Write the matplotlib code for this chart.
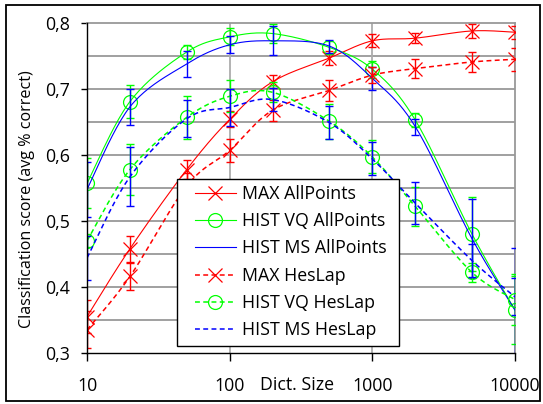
import numpy as np
import matplotlib
matplotlib.use("Agg")
import matplotlib.pyplot as plt
from matplotlib.lines import Line2D
from matplotlib.patches import Rectangle
from matplotlib.ticker import FixedLocator, FixedFormatter, NullLocator

plt.rcParams['font.family'] = ['Open Sans', 'DejaVu Sans']

# Dictionary sizes (x axis)
dict_sizes = [10, 20, 50, 100, 200, 500, 1000, 2000, 5000, 10000]

# Classification scores and error-bar half widths per method
max_all = [0.355, 0.458, 0.578, 0.654, 0.711, 0.747, 0.773, 0.777, 0.788, 0.786]
max_all_err = [0.025, 0.020, 0.015, 0.012, 0.010, 0.010, 0.010, 0.008, 0.010, 0.010]

vq_all = [0.557, 0.681, 0.756, 0.779, 0.784, 0.763, 0.730, 0.653, 0.480, 0.365]
vq_all_err = [0.038, 0.025, 0.010, 0.013, 0.015, 0.010, 0.013, 0.010, 0.056, 0.052]

ms_all = [0.548, 0.673, 0.738, 0.767, 0.773, 0.765, 0.716, 0.643, 0.473, 0.365]
ms_all_err = [0.042, 0.027, 0.020, 0.013, 0.022, 0.010, 0.017, 0.012, 0.060, 0.094]

max_hes = [0.335, 0.416, 0.553, 0.607, 0.668, 0.698, 0.721, 0.731, 0.741, 0.745]
max_hes_err = [0.028, 0.021, 0.020, 0.017, 0.016, 0.016, 0.012, 0.014, 0.015, 0.017]

vq_hes = [0.470, 0.578, 0.657, 0.689, 0.695, 0.651, 0.597, 0.522, 0.422, 0.381]
vq_hes_err = [0.010, 0.038, 0.033, 0.024, 0.015, 0.027, 0.025, 0.030, 0.014, 0.038]

ms_hes = [0.444, 0.567, 0.655, 0.672, 0.684, 0.649, 0.594, 0.527, 0.440, 0.385]
ms_hes_err = [0.033, 0.045, 0.028, 0.028, 0.017, 0.025, 0.025, 0.032, 0.025, 0.028]

series_labels = ["MAX AllPoints", "HIST VQ AllPoints", "HIST MS AllPoints",
                 "MAX HesLap", "HIST VQ HesLap", "HIST MS HesLap"]

y_ticks = [0.3, 0.4, 0.5, 0.6, 0.7, 0.8]
y_tick_labels = ["0,3", "0,4", "0,5", "0,6", "0,7", "0,8"]
x_ticks = [10, 100, 1000, 10000]
x_tick_labels = ["10", "100", "1000", "10000"]

RED, GREEN, BLUE = "#FF0000", "#00FF00", "#0000FF"
DASH = (0, (3.2, 2.2))
FS = 12.8

W, H = 543, 404
AX_L, AX_R, AX_T, AX_B = 87, 515, 23, 353


def ax_frac(px, py):
    """Pixel position -> axes fraction."""
    return (px - AX_L) / (AX_R - AX_L), (AX_B - py) / (AX_B - AX_T)


def smooth(xs, ys, n=24):
    """Catmull-Rom style smoothed path through the points (log-x space)."""
    lx = np.log10(np.asarray(xs, float))
    y = np.asarray(ys, float)
    px = np.concatenate([[lx[0]], lx, [lx[-1]]])
    py = np.concatenate([[y[0]], y, [y[-1]]])
    out_x, out_y = [], []
    t = np.linspace(0, 1, n)
    for i in range(1, len(px) - 2):
        p0 = np.array([px[i], py[i]])
        p3 = np.array([px[i + 1], py[i + 1]])
        c1 = p0 + (np.array([px[i + 1], py[i + 1]]) - np.array([px[i - 1], py[i - 1]])) / 6
        c2 = p3 - (np.array([px[i + 2], py[i + 2]]) - np.array([px[i], py[i]])) / 6
        b = ((1 - t) ** 3)[:, None] * p0 + (3 * (1 - t) ** 2 * t)[:, None] * c1 \
            + (3 * (1 - t) * t ** 2)[:, None] * c2 + (t ** 3)[:, None] * p3
        out_x.extend(b[:, 0])
        out_y.extend(b[:, 1])
    return 10 ** np.array(out_x), np.array(out_y)


fig = plt.figure(figsize=(W / 100, H / 100), dpi=100)
ax = fig.add_axes([AX_L / W, 1 - AX_B / H, (AX_R - AX_L) / W, (AX_B - AX_T) / H])

ax.set_xscale("log")
ax.set_xlim(10, 10000)
ax.set_ylim(0.3, 0.8)

# grid
for v in np.arange(0.35, 0.8, 0.05):
    ax.axhline(v, color="#999999", lw=1.3, zorder=0)
for v in [100, 1000]:
    ax.axvline(v, color="#ADADAD", lw=1.3, zorder=0)

series = [
    (max_all, max_all_err, RED, "-", "x"),
    (vq_all, vq_all_err, GREEN, "-", "o"),
    (ms_all, ms_all_err, BLUE, "-", None),
    (max_hes, max_hes_err, RED, DASH, "x"),
    (vq_hes, vq_hes_err, GREEN, DASH, "o"),
    (ms_hes, ms_hes_err, BLUE, DASH, None),
]

handles = []
for i, (vals, errs, col, ls, mk) in enumerate(series):
    dashed = ls != "-"
    lw = 1.1 if dashed else 0.8
    sx, sy = smooth(dict_sizes, vals)
    ax.plot(sx, sy, color=col, lw=lw, linestyle=ls, zorder=3 + i)
    ax.errorbar(dict_sizes, vals, yerr=errs, fmt="none", ecolor=col,
                elinewidth=1.0, capsize=3, capthick=1.0, zorder=3 + i)
    if mk is not None:
        ax.plot(dict_sizes, vals, linestyle="none", marker=mk, markersize=10,
                markerfacecolor="none", markeredgecolor=col,
                markeredgewidth=0.9, zorder=3 + i)
    handles.append(Line2D([], [], color=col, lw=lw, linestyle=ls,
                          marker=mk if mk else "", markersize=10,
                          markerfacecolor="none", markeredgecolor=col,
                          markeredgewidth=0.9))

# axes frame
for s in ["top", "right"]:
    ax.spines[s].set_color("#999999")
    ax.spines[s].set_linewidth(1.3)
for s in ["left", "bottom"]:
    ax.spines[s].set_color("black")
    ax.spines[s].set_linewidth(1.0)
ax.spines["left"].set_zorder(20)
ax.spines["bottom"].set_zorder(20)

ax.yaxis.set_major_locator(FixedLocator(y_ticks))
ax.yaxis.set_major_formatter(FixedFormatter(y_tick_labels))
ax.yaxis.set_minor_locator(NullLocator())
ax.xaxis.set_major_locator(FixedLocator(x_ticks))
ax.xaxis.set_major_formatter(FixedFormatter(x_tick_labels))
ax.xaxis.set_minor_locator(NullLocator())
ax.tick_params(axis="y", direction="out", length=4, width=1, pad=8,
               labelsize=FS, colors="black")
ax.tick_params(axis="x", direction="out", length=6, width=1, pad=11,
               labelsize=FS, colors="black")

fig.text(27 / W, 1 - 199 / H, "Classification score (avg % correct)",
         rotation=90, ha="center", va="center", fontsize=11.6)
fig.text(297 / W, 1 - 385 / H, "Dict. Size",
         ha="center", va="center", fontsize=FS)

# legend box with white fill, entries laid out inside it
x0, y0 = ax_frac(177, 346)
x1, y1 = ax_frac(399, 179)
ax.add_patch(Rectangle((x0, y0), x1 - x0, y1 - y0, transform=ax.transAxes,
                       facecolor="white", edgecolor="black", lw=1.0,
                       zorder=29, clip_on=False))
leg = ax.legend(handles, series_labels, loc="upper left",
                bbox_to_anchor=ax_frac(195, 185), frameon=False,
                fontsize=FS, numpoints=1, handlelength=2.3,
                handletextpad=0.34, labelspacing=0.52,
                borderpad=0.0, borderaxespad=0.0)
leg.set_zorder(30)

# outer chart border
fig.patches.append(Rectangle((6 / W, 3 / H), 534 / W, 396 / H,
                             transform=fig.transFigure, fill=False,
                             edgecolor="black", lw=1.3))

fig.savefig("out.png", dpi=100)
